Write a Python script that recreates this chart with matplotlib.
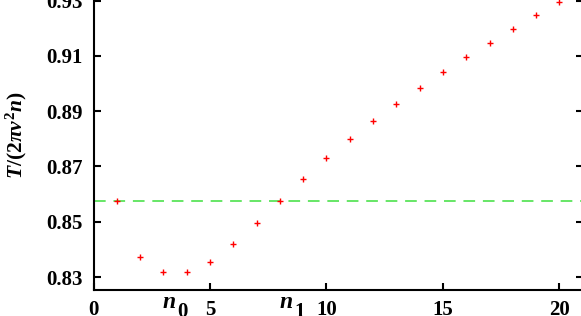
import numpy as np
import matplotlib.pyplot as plt

# data
n = np.arange(1, 21)
ratio = [0.8576, 0.8373, 0.8319, 0.8319, 0.8355, 0.8418, 0.8495, 0.8576, 0.8654, 0.8729,
         0.8799, 0.8864, 0.8926, 0.8985, 0.9041, 0.9096, 0.9147, 0.9198, 0.9248, 0.9295]
level = 0.8576
x_ticks = [0, 5, 10, 15, 20]
y_ticks = [0.83, 0.85, 0.87, 0.89, 0.91, 0.93]
special_pos = [3.5, 8.5]
special_sub = ['0', '1']

plt.rcParams['font.family'] = 'Liberation Serif'
plt.rcParams['font.weight'] = 'bold'
plt.rcParams['mathtext.fontset'] = 'custom'
plt.rcParams['mathtext.rm'] = 'Liberation Serif:bold'
plt.rcParams['mathtext.it'] = 'Liberation Serif:italic:bold'
plt.rcParams['mathtext.bf'] = 'Liberation Serif:bold'

fig = plt.figure(figsize=(5.81, 3.16), dpi=100)
ax = fig.add_axes([0.161, 0.0823, 0.842, 1.003])

ax.axhline(level, color='#66e666', lw=1.4, dashes=(6, 4))
ax.plot(n, ratio, '+', color='red', ms=4.5, mew=1.0, ls='none')

ax.set_xlim(0, 21)
ax.set_ylim(0.8253, 0.94)
ax.set_xticks(x_ticks)
ax.set_yticks(y_ticks)
ax.set_yticklabels(['%.2f' % v for v in y_ticks])
ax.tick_params(direction='in', length=5, width=1.5, labelsize=15, right=True, top=False)
ax.tick_params(axis='x', pad=7.5)
ax.tick_params(axis='y', pad=8)
for s in ax.spines.values():
    s.set_linewidth(1.5)

# n0 / n1 labels under the x axis
xt = ax.get_xaxis_transform()
for p, sub in zip(special_pos, special_sub):
    ax.annotate('n', xy=(p, 0), xycoords=xt, xytext=(-5.5, -18), textcoords='offset pixels',
                ha='center', va='baseline', fontsize=17, fontstyle='italic', annotation_clip=False)
    ax.annotate(sub, xy=(p, 0), xycoords=xt, xytext=(7.7, -27), textcoords='offset pixels',
                ha='center', va='baseline', fontsize=15, annotation_clip=False)

fig.text(0.0275, 0.573, r'$T/(2\pi v^2n)$', rotation=90, ha='center', va='center', fontsize=15.5)

fig.savefig('out.png', dpi=100)
